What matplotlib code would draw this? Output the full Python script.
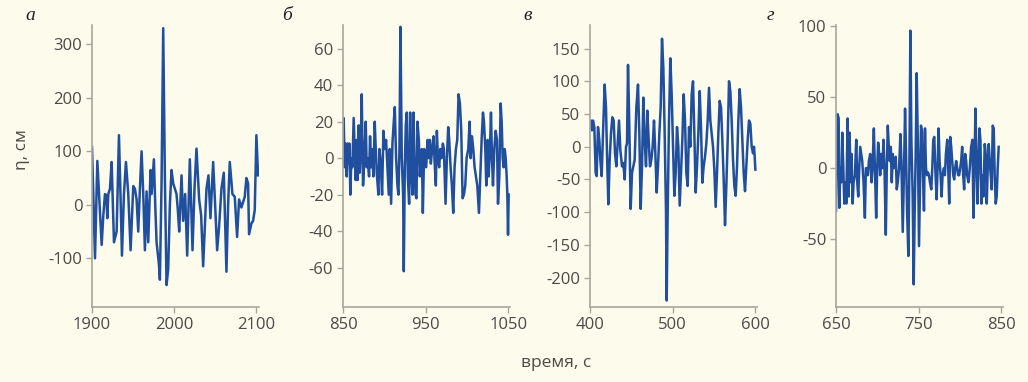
import matplotlib
matplotlib.use("Agg")
import matplotlib.pyplot as plt
import numpy as np

# ---------------- data ----------------
# panel а : zoom pixel x -> time, zoom pixel y -> eta
a_zx = [276, 279, 285, 292, 298, 305, 310, 315, 319, 322, 325, 330, 335, 342, 350, 357, 362, 366,
        372, 378, 385, 392, 400, 405, 410, 415, 420, 425, 430, 435, 440, 445, 452, 455, 462, 466,
        470, 477, 480, 485, 490, 495, 500, 505, 510, 515, 520, 525, 530, 534, 538, 545, 550, 556,
        562, 570, 578, 584, 590, 598, 604, 610, 620, 626, 632, 640, 646, 652, 658, 665, 672, 680,
        685, 690, 698, 705, 712, 718, 725, 730, 735, 740, 745, 748, 755, 760, 765, 770, 775]
a_eta = [108, 40, -100, 82, 10, -75, -20, 20, 18, -25, 20, 30, 80, -70, -50, 130, 10, -95,
         20, 80, 20, -85, 35, 30, 10, -50, 30, 100, 20, -85, 25, -70, 65, 20, 85, 0,
         -70, -110, -140, 40, 330, 50, -150, -120, 0, 65, 40, 30, 20, -10, -50, 55, -30, 20,
         -95, 85, -85, 30, 105, 10, -20, -115, 30, 55, -25, 80, 0, -85, -40, 30, 60, -125,
         0, 80, 20, 15, -60, 10, -5, 5, 15, 50, 40, -55, -35, -30, -10, 130, 55]

b_zx = [219, 221, 224, 227, 230, 233, 236, 238, 241, 244, 247, 251, 254, 257, 260, 263, 266, 269,
        272, 275, 279, 283, 287, 290, 293, 297, 300, 303, 306, 310, 314, 317, 320, 325, 328, 332,
        336, 340, 344, 348, 352, 356, 359, 363, 367, 371, 374, 378, 382, 385, 388, 391, 395, 399,
        401, 404, 407, 410, 413, 417, 420, 423, 427, 430, 433, 436, 439, 442, 446, 449, 452, 455,
        458, 462, 465, 468, 472, 476, 479, 482, 486, 490, 494, 497, 500, 503, 507, 510, 514, 518,
        521, 526, 530, 534, 537, 541, 545, 549, 553, 557, 561, 565, 569, 573, 577, 581, 585, 589,
        594, 598, 601, 605, 609, 613, 617, 621, 626, 630, 634, 638, 641, 645, 648, 652, 655, 659,
        662, 665, 668, 672, 676, 680, 683, 687, 691, 694, 697, 700, 703, 706, 709, 711, 713, 715]
b_eta = [5, 22, -5, 8, -10, 8, -3, 8, -20, 0, -5, 22, 5, -12, 10, -12, 18, -8,
         5, 35, -15, 0, 20, -5, 0, -10, 12, -5, 5, -10, 20, 5, -8, -20, 5, -3,
         -20, 15, 5, 10, -5, -20, 5, -25, 8, 20, 28, 0, -15, -20, 5, 72, 0, -20,
         -62, -5, 18, 25, -10, -25, 25, -5, -20, 25, 0, -20, -22, 20, 10, -10, 0, 5,
         -30, 5, 0, -5, 10, 0, 10, -3, 5, 12, -5, -15, 15, 0, -5, 5, 0, 8,
         5, -25, 0, 17, 10, -5, -15, -30, -5, 5, 10, 35, 30, 15, -22, -20, -15, 0,
         5, 20, 0, 12, 5, -5, -10, -15, -30, -10, 10, 25, 20, 5, -15, 10, -10, 5,
         25, 0, -15, 5, 15, 10, -25, -10, 30, 20, 0, -5, 5, 0, -10, -20, -42, -20]

c_zx = [209, 212, 215, 218, 222, 226, 229, 233, 237, 240, 244, 248, 253, 257, 260, 264, 268, 272,
        276, 280, 284, 288, 292, 296, 300, 305, 309, 313, 317, 320, 323, 327, 331, 335, 339, 343,
        348, 353, 357, 361, 365, 369, 373, 377, 381, 385, 389, 393, 397, 401, 405, 409, 413, 417,
        421, 425, 429, 433, 437, 439, 442, 446, 450, 454, 458, 462, 466, 470, 474, 478, 482, 486,
        490, 494, 498, 502, 506, 510, 514, 518, 522, 526, 530, 534, 538, 542, 546, 550, 554, 558,
        562, 566, 570, 574, 578, 582, 586, 590, 594, 598, 602, 606, 610, 614, 618, 622, 626, 630,
        634, 638, 642, 646, 650, 654, 658, 662, 666, 670, 674, 678, 682, 686, 690, 694, 698, 701,
        703, 705]
c_eta = [30, 40, 25, 40, 30, -40, -45, 30, 10, -20, -45, 20, 95, 60, -10, -88, -20, 20,
         45, 40, -10, -30, 5, 40, -5, -30, -25, -50, 0, 5, 125, 30, -95, -40, -30, -20,
         60, 95, 20, -95, -30, 75, 10, -30, 55, 10, -30, -20, 0, 40, -10, -70, -30, 20,
         60, 165, 120, 20, -100, -235, -100, 40, 135, 80, 0, -75, -40, 30, 0, -90, -40, 10,
         80, 40, -40, -60, 30, 0, 80, 100, 20, -70, -30, 20, 85, 30, -55, -30, -15, 5,
         40, 90, 40, 20, 0, -35, -92, -40, 20, 70, 60, 10, -50, -120, -60, 10, 100, 85,
         40, -20, -60, -75, -30, 40, 88, 60, 10, -40, -68, -30, 10, 40, 35, 0, -10, 0,
         -15, -35]

d_zx = [197, 199, 202, 205, 207, 210, 213, 216, 219, 222, 225, 228, 232, 235, 238, 241, 244, 247,
        250, 254, 258, 261, 264, 267, 270, 273, 276, 280, 284, 287, 290, 293, 296, 300, 304, 307,
        311, 314, 318, 321, 324, 327, 330, 334, 337, 340, 343, 347, 350, 353, 356, 359, 362, 365,
        368, 371, 374, 377, 380, 383, 387, 391, 394, 398, 402, 405, 408, 411, 415, 418, 421, 424,
        428, 431, 434, 437, 440, 444, 447, 450, 453, 456, 459, 462, 465, 468, 471, 474, 477, 480,
        484, 487, 490, 493, 496, 500, 503, 506, 509, 512, 515, 518, 522, 525, 528, 532, 535, 538,
        541, 544, 547, 550, 553, 556, 559, 562, 565, 568, 571, 574, 577, 580, 583, 586, 589, 592,
        596, 600, 604, 608, 611, 614, 617, 620, 623, 626, 629, 632, 635, 638, 641, 645, 648, 651,
        654, 657, 660, 663, 666, 669, 672, 675, 678, 681, 684, 687]
d_eta = [-30, 0, 38, 35, -28, 0, -10, 25, 0, -25, -10, -25, 35, -20, 25, -10, 10, -25,
         -10, -5, 20, -10, -20, 0, 15, 10, 5, -10, -35, 0, 0, -5, 5, 10, -10, 0,
         28, 0, -35, 0, 18, 10, -5, 10, 0, 20, 0, -47, 0, 30, 15, 5, 15, -10,
         10, 0, 5, 8, -15, -10, 0, 24, 5, -45, 0, 42, 10, -30, -62, 0, 97, 20,
         -20, -82, -30, 10, 67, 10, -55, -10, 30, 25, -5, -30, 28, 0, -5, -3, -5, -10,
         -15, 0, 20, 22, 0, -22, 0, 28, 5, -5, -20, -5, 0, -5, 10, 20, 0, -25,
         22, 15, 5, -5, -8, 0, 5, 0, -5, -5, 0, 5, 15, -5, -15, 10, 5, -5,
         -10, 0, 15, 20, -35, 0, 42, 10, -25, 0, 28, 20, -25, -5, -20, 17, 10, -25,
         0, 17, 5, -5, -15, 30, 28, -5, -25, -20, 0, 15]

panel_letters = ["а", "б", "в", "г"]
x_ticks = [[1900, 2000, 2100], [850, 950, 1050], [400, 500, 600], [650, 750, 850]]
y_ticks = [[-100, 0, 100, 200, 300], [-60, -40, -20, 0, 20, 40, 60],
           [-200, -150, -100, -50, 0, 50, 100, 150], [-50, 0, 50, 100]]

# zoom pixel calibration (tick positions in the 3x crops)
calib = [
    dict(zx=a_zx, eta=a_eta, x0=276, x1=768, t0=1900, t1=2100),
    dict(zx=b_zx, eta=b_eta, x0=219, x1=714, t0=850, t1=1050),
    dict(zx=c_zx, eta=c_eta, x0=209, x1=705, t0=400, t1=600),
    dict(zx=d_zx, eta=d_eta, x0=197, x1=695, t0=650, t1=850),
]

xlims = [(1900, 2104), (850, 1052), (400, 602), (650, 852)]
ylims = [(-191, 336), (-81.6, 73), (-245, 186), (-98, 101)]
ax_left_px = [92, 343, 590, 836]
ax_w_px = 167
letter_x_px = [30, 287, 528, 770]

W, H = 1028, 382
BG = "#fdfbeb"
LINE = "#1f4f9e"
SPINE = "#a8a69a"
TXT = "#4a4a48"

fig = plt.figure(figsize=(W / 100, H / 100), dpi=100, facecolor=BG)

for i in range(4):
    c = calib[i]
    zx = np.array(c["zx"], dtype=float)
    t = c["t0"] + (zx - c["x0"]) * (c["t1"] - c["t0"]) / (c["x1"] - c["x0"])
    t = np.clip(t, c["t0"], None)
    ax = fig.add_axes([ax_left_px[i] / W, (H - 307) / H, ax_w_px / W, 282 / H])
    ax.set_facecolor(BG)
    ax.plot(t, c["eta"], color=LINE, lw=1.8, solid_joinstyle="round")
    ax.set_xlim(*xlims[i])
    ax.set_ylim(*ylims[i])
    ax.set_xticks(x_ticks[i])
    ax.set_yticks(y_ticks[i])
    ax.set_yticklabels([str(v) for v in y_ticks[i]])
    for s in ["top", "right"]:
        ax.spines[s].set_visible(False)
    for s in ["left", "bottom"]:
        ax.spines[s].set_color(SPINE)
        ax.spines[s].set_linewidth(1.2)
    ax.tick_params(direction="out", length=4, width=1.0, color=SPINE,
                   labelcolor=TXT, labelsize=12, pad=3)
    for lab in ax.get_xticklabels() + ax.get_yticklabels():
        lab.set_fontfamily("Open Sans")
    fig.text(letter_x_px[i] / W, 1 - 15 / H, panel_letters[i], fontsize=14,
             family="Liberation Serif", style="italic", color="#222222",
             ha="center", va="center")

fig.text(22 / W, 1 - 150 / H, "η, см", rotation=90, fontsize=12.5, family="Open Sans",
         color=TXT, ha="center", va="center")
fig.text(556 / W, 1 - 363 / H, "время, с", fontsize=12.5, family="Open Sans",
         color=TXT, ha="center", va="center")

fig.savefig("out.png", dpi=100, facecolor=BG)
